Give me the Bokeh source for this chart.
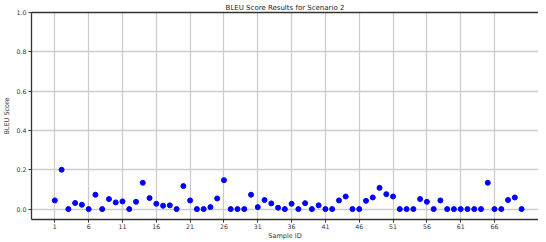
from bokeh.plotting import figure
from bokeh.models import FixedTicker, LinearAxis, Range1d, NumeralTickFormatter
from bokeh.embed import file_html
from bokeh.resources import INLINE

sample_ids = list(range(1, 71))
bleu_scores = [
    0.044, 0.200, 0.000, 0.031, 0.022, 0.000, 0.073, 0.000, 0.051, 0.034,
    0.039, 0.000, 0.037, 0.134, 0.056, 0.027, 0.017, 0.019, 0.000, 0.117,
    0.044, 0.000, 0.000, 0.010, 0.054, 0.147, 0.000, 0.000, 0.000, 0.073,
    0.010, 0.046, 0.029, 0.007, 0.000, 0.027, 0.000, 0.030, 0.000, 0.019,
    0.000, 0.000, 0.044, 0.064, 0.000, 0.000, 0.042, 0.059, 0.108, 0.076,
    0.064, 0.000, 0.000, 0.000, 0.051, 0.037, 0.000, 0.044, 0.000, 0.000,
    0.000, 0.000, 0.000, 0.000, 0.134, 0.000, 0.000, 0.046, 0.059, 0.000,
]
x_ticks = [1, 6, 11, 16, 21, 26, 31, 36, 41, 46, 51, 56, 61, 66]
y_ticks = [0.0, 0.2, 0.4, 0.6, 0.8, 1.0]

FONT = "DejaVu Sans"

p = figure(width=538, height=242, output_backend="svg", toolbar_location=None,
           x_range=Range1d(-2.45, 72.5), y_range=Range1d(-0.053, 1.0),
           title="BLEU Score Results for Scenario 2",
           min_border_left=0, min_border_right=0, min_border_top=0, min_border_bottom=0)

p.title.align = "center"
p.title.text_font = FONT
p.title.text_font_size = "7px"
p.title.text_font_style = "normal"
p.title.text_color = "#222222"
p.title.offset = 0
p.title.standoff = 2

p.outline_line_color = None
p.background_fill_color = "white"
p.border_fill_color = "white"

p.xaxis.ticker = FixedTicker(ticks=x_ticks)
p.yaxis.ticker = FixedTicker(ticks=y_ticks)
p.yaxis.formatter = NumeralTickFormatter(format="0.0")

for ax in (p.xaxis[0], p.yaxis[0]):
    ax.axis_line_color = "#333333"
    ax.axis_line_width = 1.3
    ax.major_tick_line_color = "#333333"
    ax.major_tick_out = 3
    ax.major_tick_in = 0
    ax.minor_tick_line_color = None
    ax.major_label_text_font = FONT
    ax.major_label_text_font_size = "6.3px"
    ax.major_label_text_color = "#333333"
    ax.major_label_standoff = 2
    ax.axis_label_text_font = FONT
    ax.axis_label_text_font_size = "6.5px"
    ax.axis_label_text_font_style = "normal"
    ax.axis_label_text_color = "#333333"
    ax.axis_label_standoff = 2

p.xaxis.major_label_standoff = 1
p.xaxis.axis_label_standoff = 0
p.xaxis.axis_label = "Sample ID"
p.yaxis.axis_label = "BLEU Score"

top = LinearAxis(ticker=FixedTicker(ticks=[]), major_label_text_font_size="0px",
                 axis_line_color="#333333", axis_line_width=1.3,
                 major_tick_line_color=None, minor_tick_line_color=None)
p.add_layout(top, "above")

p.xgrid.grid_line_color = "#cccccc"
p.xgrid.grid_line_width = 1.3
p.ygrid.grid_line_color = "#cccccc"
p.ygrid.grid_line_width = 1.3

p.scatter(sample_ids, bleu_scores, size=5, color="blue", line_color="blue")

open("out.html", "w").write(file_html(p, INLINE))
